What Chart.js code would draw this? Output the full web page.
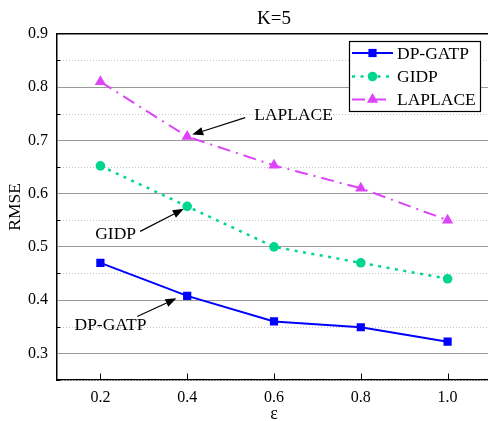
<!DOCTYPE html>
<html><head><meta charset="utf-8">
<script src="https://cdn.jsdelivr.net/npm/chart.js@4"></script>
<style>html,body{margin:0;padding:0;overflow:hidden;background:#fff;width:488px;height:421px}canvas{display:block}</style>
</head><body>
<canvas id="c" width="491" height="421"></canvas>
<script>
// ---- data ----
const epsilonValues = [0.2, 0.4, 0.6, 0.8, 1.0];
const dpGatp  = [0.470, 0.408, 0.360, 0.349, 0.322];
const gidp    = [0.652, 0.576, 0.500, 0.470, 0.440];
const laplace = [0.810, 0.707, 0.653, 0.610, 0.550];
const seriesNames = ['DP-GATP', 'GIDP', 'LAPLACE'];
const xTicks = [0.2, 0.4, 0.6, 0.8, 1.0];
const yMajorTicks = [0.3, 0.4, 0.5, 0.6, 0.7, 0.8, 0.9];
const yMinorTicks = [0.25, 0.35, 0.45, 0.55, 0.65, 0.75, 0.85];
const titleText = 'K=5';
const xTitle = 'ε';
const yTitle = 'RMSE';
// annotation label -> series index, point index
const annotations = [
  { text: 'LAPLACE', series: 2, point: 1 },
  { text: 'GIDP', series: 1, point: 1 },
  { text: 'DP-GATP', series: 0, point: 1 }
];

const FONT = '"Liberation Serif", "Times New Roman", serif';
const toXY = arr => arr.map((v, i) => ({ x: epsilonValues[i], y: v }));

const styles = [
  { color: '#0000ff', dash: [], width: 2, pointStyle: 'rect', radius: 5.8 },
  { color: '#00d68f', dash: [3, 5.5], width: 2.5, pointStyle: 'circle', radius: 4.8 },
  { color: '#dd44f7', dash: [13, 6, 2, 6], width: 2, pointStyle: 'triangle', radius: 6.5 }
];
const seriesData = [dpGatp, gidp, laplace];

const datasets = seriesData.map((d, i) => ({
  label: seriesNames[i],
  data: toXY(d),
  borderColor: styles[i].color,
  backgroundColor: styles[i].color,
  borderWidth: styles[i].width,
  borderDash: styles[i].dash,
  pointStyle: styles[i].pointStyle,
  pointRadius: styles[i].radius,
  pointBorderWidth: 0,
  pointBackgroundColor: styles[i].color,
  tension: 0,
  fill: false
}));

// annotation geometry offsets relative to the target point (pixels)
const annoGeom = {
  'LAPLACE': { tip: [5, -2], tail: [58, -19], text: [67, -21], align: 'left' },
  'GIDP': { tip: [-3.4, 2.5], tail: [-47, 25], text: [-92, 28], align: 'left' },
  'DP-GATP': { tip: [-10.7, 2.5], tail: [-50, 20.6], text: [-112.7, 29.6], align: 'left' }
};

function drawMarker(ctx, style, x, y, r, color) {
  ctx.save();
  ctx.fillStyle = color;
  ctx.beginPath();
  if (style === 'rect') {
    const s = r * Math.SQRT1_2;
    ctx.rect(x - s, y - s, 2 * s, 2 * s);
  } else if (style === 'circle') {
    ctx.arc(x, y, r, 0, Math.PI * 2);
  } else if (style === 'triangle') {
    for (let k = 0; k < 3; k++) {
      const a = -Math.PI / 2 + k * 2 * Math.PI / 3;
      const px = x + r * Math.cos(a), py = y + r * Math.sin(a);
      if (k === 0) ctx.moveTo(px, py); else ctx.lineTo(px, py);
    }
    ctx.closePath();
  }
  ctx.fill();
  ctx.restore();
}

function drawArrow(ctx, x1, y1, x2, y2) {
  const ang = Math.atan2(y2 - y1, x2 - x1);
  const hl = 11, hw = 4.2;
  const bx = x2 - hl * Math.cos(ang), by = y2 - hl * Math.sin(ang);
  ctx.save();
  ctx.strokeStyle = '#000';
  ctx.fillStyle = '#000';
  ctx.lineWidth = 1.2;
  ctx.beginPath();
  ctx.moveTo(x1, y1);
  ctx.lineTo(bx, by);
  ctx.stroke();
  ctx.beginPath();
  ctx.moveTo(x2, y2);
  ctx.lineTo(bx + hw * Math.sin(ang), by - hw * Math.cos(ang));
  ctx.lineTo(bx - hw * Math.sin(ang), by + hw * Math.cos(ang));
  ctx.closePath();
  ctx.fill();
  ctx.restore();
}

const decor = {
  id: 'decor',
  beforeDatasetsDraw(chart) {
    const { ctx, chartArea: a, scales: { x, y } } = chart;
    ctx.save();
    // minor dotted grid
    ctx.strokeStyle = '#c4c4c4';
    ctx.lineWidth = 1;
    ctx.setLineDash([1, 2]);
    yMinorTicks.forEach(v => {
      const py = Math.round(y.getPixelForValue(v)) + 0.5;
      ctx.beginPath(); ctx.moveTo(a.left, py); ctx.lineTo(a.right, py); ctx.stroke();
    });
    ctx.setLineDash([]);
    // inside ticks
    ctx.strokeStyle = '#000';
    ctx.lineWidth = 1;
    yMinorTicks.forEach(v => {
      const py = Math.round(y.getPixelForValue(v)) + 0.5;
      ctx.beginPath(); ctx.moveTo(a.left, py); ctx.lineTo(a.left + 3.5, py); ctx.stroke();
    });
    xTicks.forEach(v => {
      const px = Math.round(x.getPixelForValue(v)) + 0.5;
      ctx.beginPath(); ctx.moveTo(px, a.bottom); ctx.lineTo(px, a.bottom - 6.5); ctx.stroke();
    });
    // top frame
    ctx.lineWidth = 1.5;
    ctx.beginPath(); ctx.moveTo(a.left, a.top); ctx.lineTo(a.right, a.top); ctx.stroke();
    ctx.restore();
  },
  afterDatasetsDraw(chart) {
    const { ctx, scales: { x, y } } = chart;
    // annotations
    ctx.save();
    ctx.font = '17.5px ' + FONT;
    ctx.fillStyle = '#000';
    ctx.textBaseline = 'middle';
    annotations.forEach(an => {
      const g = annoGeom[an.text];
      const px = x.getPixelForValue(epsilonValues[an.point]);
      const py = y.getPixelForValue(seriesData[an.series][an.point]);
      drawArrow(ctx, px + g.tail[0], py + g.tail[1], px + g.tip[0], py + g.tip[1]);
      ctx.textAlign = g.align;
      ctx.fillText(an.text, px + g.text[0], py + g.text[1]);
    });
    ctx.restore();
    // legend
    ctx.save();
    const bx = 349.5, by = 41.5, bw = 131, bh = 70;
    ctx.fillStyle = '#fff';
    ctx.fillRect(bx, by, bw, bh);
    ctx.strokeStyle = '#000';
    ctx.lineWidth = 1.2;
    ctx.strokeRect(bx, by, bw, bh);
    const rows = [53, 76.5, 99.5];
    ctx.font = '17.5px ' + FONT;
    ctx.textBaseline = 'middle';
    ctx.textAlign = 'left';
    chart.data.datasets.forEach((ds, i) => {
      const st = styles[i];
      const ry = rows[i];
      ctx.save();
      ctx.strokeStyle = st.color;
      ctx.lineWidth = st.width;
      ctx.setLineDash(i === 2 ? [13, 8] : st.dash);
      ctx.beginPath(); ctx.moveTo(352, ry); ctx.lineTo(393, ry); ctx.stroke();
      ctx.restore();
      drawMarker(ctx, st.pointStyle, 372.5, ry, st.radius, st.color);
      ctx.fillStyle = '#000';
      ctx.fillText(ds.label, 397, ry + 1);
    });
    ctx.restore();
  }
};

new Chart(document.getElementById('c'), {
  type: 'line',
  data: { datasets },
  options: {
    responsive: false,
    animation: false,
    devicePixelRatio: 1,
    layout: { autoPadding: false, padding: { top: 0, left: 0, right: 0, bottom: 0 } },
    plugins: {
      legend: { display: false },
      tooltip: { enabled: false },
      title: {
        display: true, text: titleText, fullSize: false,
        color: '#000', font: { family: FONT, size: 19, weight: 'normal' },
        padding: { top: 8, bottom: 3 }
      }
    },
    scales: {
      x: {
        type: 'linear', min: 0.1, max: 1.1,
        afterBuildTicks: s => { s.ticks = xTicks.map(v => ({ value: v })); },
        afterFit: s => { s.height = 41; s.paddingRight = 0; s.paddingLeft = 0; },
        grid: { display: false, drawTicks: false },
        border: { display: true, color: '#000', width: 1.5 },
        ticks: {
          color: '#000', font: { family: FONT, size: 16 }, padding: 8,
          maxRotation: 0, autoSkip: false, callback: v => Number(v).toFixed(1)
        },
        title: { display: true, text: xTitle, color: '#000', font: { family: FONT, size: 18 }, padding: { top: 0, bottom: -4 } }
      },
      y: {
        type: 'linear', min: 0.25, max: 0.9,
        afterBuildTicks: s => { s.ticks = yMajorTicks.map(v => ({ value: v })); },
        afterFit: s => { s.width = 57; },
        grid: { color: '#9a9a9a', lineWidth: 1, drawTicks: false },
        border: { display: true, color: '#000', width: 1.5 },
        ticks: {
          color: '#000', font: { family: FONT, size: 16 }, padding: 9,
          autoSkip: false, callback: v => Number(v).toFixed(1)
        },
        title: { display: true, text: yTitle, color: '#000', font: { family: FONT, size: 17.5 }, padding: { top: 5, bottom: 0 } }
      }
    }
  },
  plugins: [decor]
});
</script>
</body></html>
